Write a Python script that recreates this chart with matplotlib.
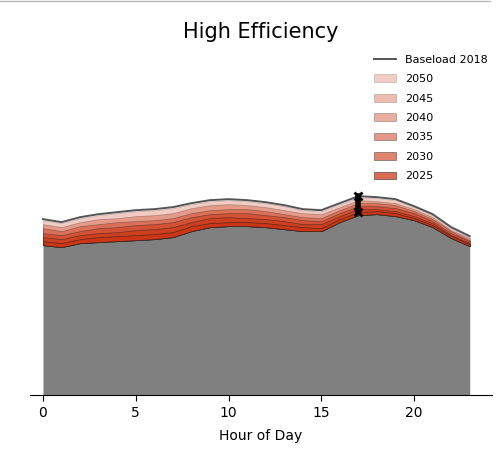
import matplotlib
matplotlib.use("Agg")
import matplotlib.pyplot as plt

# hora do dia
hours = list(range(24))

# carga base (area cinza)
base = [150, 148, 152, 153, 154, 155, 156, 158, 164, 168, 169, 169,
        168, 166, 164, 164, 173, 180, 181, 179, 175, 168, 157, 149]

# cargas por ano
load_2025 = [154, 152, 156, 158, 159, 160, 161, 163, 169, 172, 173, 173,
             172, 170, 168, 167, 176, 183, 184, 182, 177, 170, 159, 151]
load_2030 = [158, 156, 160, 162, 163, 165, 166, 168, 173, 177, 178, 177,
             176, 174, 171, 171, 179, 186, 186, 184, 179, 172, 160, 152]
load_2035 = [162, 160, 164, 167, 168, 170, 171, 173, 178, 181, 182, 182,
             180, 178, 175, 174, 182, 189, 189, 187, 182, 174, 162, 154]
load_2040 = [167, 164, 169, 171, 173, 174, 175, 177, 182, 185, 186, 186,
             184, 181, 178, 177, 185, 192, 192, 190, 184, 176, 164, 155]
load_2045 = [171, 168, 173, 176, 177, 179, 180, 182, 187, 190, 191, 190,
             188, 185, 182, 181, 188, 195, 194, 192, 186, 178, 165, 157]
load_2050 = [175, 172, 177, 180, 182, 184, 185, 187, 191, 194, 195, 194,
             192, 189, 185, 184, 191, 198, 197, 195, 188, 180, 167, 158]

# linha de referencia
baseload_2018 = [176, 173, 178, 181, 183, 185, 186, 188, 192, 195, 196, 195,
                 193, 190, 186, 185, 192, 199, 198, 196, 189, 181, 168, 159]

years = ["2050", "2045", "2040", "2035", "2030", "2025"]
loads = [load_2050, load_2045, load_2040, load_2035, load_2030, load_2025]
alphas = [0.25, 0.32, 0.4, 0.5, 0.6, 0.72]
peak_hour = 17

fig = plt.figure(figsize=(5, 4.5), dpi=100)
ax = fig.add_axes([0.06, 0.122, 0.924, 0.762])

ax.fill_between(hours, 0, base, color="gray", lw=0)
ax.plot(hours, baseload_2018, color="#555555", lw=1.4, label="Baseload 2018")
for yr, ld, a in zip(years, loads, alphas):
    ax.fill_between(hours, base, ld, facecolor="#cc3311", edgecolor="#222222",
                    lw=0.5, alpha=a, label=yr)

# marca do pico
ax.plot([peak_hour, peak_hour], [base[peak_hour] + 3, baseload_2018[peak_hour]],
        color="black", lw=4, marker="x", ms=6, mew=2)

ax.set_xlim(-0.7, 24.2)
ax.set_ylim(0, 343)
ax.set_xticks([0, 5, 10, 15, 20])
ax.set_yticks([])
for s in ["top", "left", "right"]:
    ax.spines[s].set_visible(False)
ax.tick_params(axis="x", labelsize=10, length=4)
ax.set_xlabel("Hour of Day", fontsize=10, labelpad=7)
ax.set_title("High Efficiency", fontsize=15, pad=10)

ax.legend(loc="upper right", bbox_to_anchor=(1.013, 1.022), frameon=False,
          fontsize=8, labelspacing=0.85, handlelength=2.0)

# linha cinza no topo
fig.add_artist(plt.Line2D([0.0, 0.98], [0.998, 0.998], color="#bbbbbb", lw=1))

plt.savefig("out.png", dpi=100)
